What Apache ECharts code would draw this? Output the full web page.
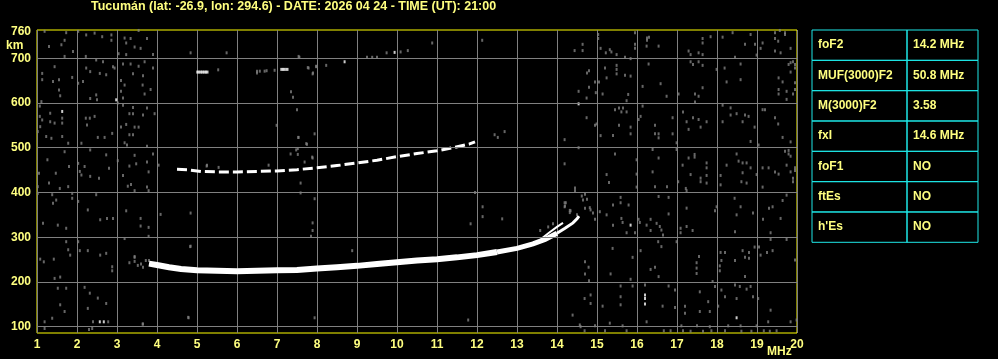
<!DOCTYPE html>
<html><head><meta charset="utf-8">
<script src="https://cdn.jsdelivr.net/npm/echarts@6/dist/echarts.min.js"></script>
<style>html,body{margin:0;padding:0;background:#000;}#c{width:998px;height:359px;}</style>
</head><body><div id="c"></div>
<script>
const chartTitle = 'Tucumán (lat: -26.9, lon: 294.6) - DATE: 2026 04 24 - TIME (UT): 21:00';
const yLabelValues = [100, 200, 300, 400, 500, 600, 700, 760];
const yGridValues = [100, 200, 300, 400, 500, 600, 700];
const tableLabels = ['foF2', 'MUF(3000)F2', 'M(3000)F2', 'fxI', 'foF1', 'ftEs', "h'Es"];
const tableValues = ['14.2 MHz', '50.8 MHz', '3.58', '14.6 MHz', 'NO', 'NO', 'NO'];

// F2 first-hop trace (MHz, km)
const traceThick = [[3.8,241],[4.0,238],[4.3,233],[4.6,229],[5.0,226],[5.5,225],[6.0,224],[6.5,225],[7.0,226],[7.5,227],[8.0,230],[8.5,233],[9.0,236],[9.5,240],[10.0,244],[10.5,248],[11.0,251],[11.5,255],[12.0,260],[12.5,267]];
const traceMid = [[12.5,267],[13.0,275],[13.4,285],[13.7,295],[14.0,309]];
const traceThin = [[14.0,309],[14.2,320],[14.4,332],[14.5,341],[14.55,347]];
const traceBranch = [[13.6,296],[13.8,310],[14.0,323],[14.15,332]];
// second hop
const hop2 = [[4.5,452],[4.75,451],[5.1,447],[5.5,446],[6.0,446],[6.5,447],[7.0,448],[7.5,451],[8.0,455],[8.5,460],[9.0,466],[9.5,472],[10.0,480],[10.5,487],[11.0,493],[11.4,500],[11.8,508],[11.95,513]];
// third hop echoes
const hop3 = [[5.02,669],[5.08,669],[5.14,669],[5.2,669],[5.25,669],[7.12,675],[7.18,675],[7.25,675]];

const noiseWhite = [[1.63,581],[2.98,607],[2.57,111],[2.67,111],[16.2,171],[16.2,163],[16.2,151],[18.49,120],[15.84,327],[14.54,598],[9.94,713],[8.69,692]];

const noiseLeft = [[1.19,760],[1.73,757],[2.03,760],[2.23,752],[2.44,756],[2.63,748],[2.86,752],[2.86,740],[1.30,726],[1.61,730],[1.69,740],[1.90,715],[1.69,704],[2.22,704],[2.48,696],[2.65,692],[2.90,681],[1.13,666],[1.44,681],[1.13,652],[1.40,648],[1.55,652],[1.88,657],[2.03,644],[2.15,648],[2.23,678],[2.33,670],[2.57,666],[2.73,663],[2.94,678],[1.55,629],[1.58,616],[1.11,603],[2.33,610],[2.48,618],[2.50,607],[1.07,593],[1.07,570],[1.13,562],[1.33,577],[1.33,558],[1.44,555],[1.63,566],[1.63,555],[1.08,547],[1.02,536],[1.23,525],[1.36,521],[1.63,525],[2.22,566],[2.32,566],[2.44,570],[2.25,551],[2.52,523],[2.69,523],[2.88,532],[1.78,510],[1.69,491],[2.11,510],[2.33,495],[2.03,465],[1.80,458],[2.07,447],[2.19,458],[2.11,439],[2.33,436],[2.55,432],[2.73,484],[2.80,454],[1.26,473],[1.30,421],[1.47,443],[1.57,409],[1.78,413],[1.05,443],[1.02,413],[1.02,398],[1.38,395],[1.40,376],[1.48,383],[1.88,398],[1.88,387],[2.03,380],[2.27,361],[2.48,395],[2.58,339],[2.75,342],[2.90,342],[1.52,327],[1.73,320],[1.15,331],[1.73,290],[2.03,290],[2.27,270],[2.07,270],[1.78,272],[1.83,260],[1.08,251],[1.17,245],[1.42,251],[2.58,260],[2.73,264],[2.88,234],[2.88,225],[1.44,208],[1.58,211],[1.73,186],[1.52,186],[2.19,188],[2.32,175],[2.52,164],[2.73,152],[1.58,149],[1.69,134],[1.38,119],[1.19,111],[2.27,141],[2.40,111],[2.78,111],[2.30,94],[2.38,96],[1.19,96],
[3.54,762],[3.19,745],[3.34,744],[3.23,734],[3.44,725],[3.59,722],[3.75,744],[3.90,708],[3.23,708],[3.04,710],[3.15,687],[3.34,687],[3.54,682],[3.69,692],[3.90,678],[3.40,665],[3.65,661],[3.10,650],[3.19,640],[3.64,640],[3.84,630],[3.69,620],[3.10,626],[3.15,611],[3.02,600],[3.15,595],[3.40,590],[3.75,589],[3.31,576],[3.40,576],[3.65,573],[3.94,576],[3.10,546],[3.23,552],[3.44,546],[3.54,546],[3.31,529],[3.40,529],[3.19,511],[3.25,506],[3.75,503],[3.44,483],[3.90,486],[3.02,471],[3.31,459],[3.48,464],[3.75,468],[3.79,446],[3.15,438],[3.27,414],[3.35,418],[3.44,404],[3.75,412],[3.79,404],[4.04,461],[3.23,359],[4.09,351],[3.59,342],[4.84,354],[3.59,325],[3.79,322],[3.79,302],[3.19,297],[4.84,280],[3.44,255],[3.65,106],[4.79,120],
[3.31,243],[3.44,246],[3.52,237],[3.60,240],[3.65,233],[3.72,248],[3.80,248],[3.44,257],[4.83,279]];

const noiseMid = [[4.84,712],[5.74,712],[7.56,702],[7.35,625],[7.40,613],[7.50,585],[6.99,550],[7.94,531],[7.54,523],[7.75,508],[7.52,498],[7.34,486],[7.52,485],[7.89,477],[7.69,468],[5.25,461],[5.54,456],[6.79,461],[7.59,421],[7.59,399],[7.94,386],[7.98,682],[7.89,665],[7.79,678],[7.89,332],[7.89,315],[7.85,302],[7.94,120],[4.78,121],[11.78,115],[3.64,106],[8.88,270],[7.53,523],[7.73,509],[7.48,495],[7.88,479],[5.24,459],[12.44,529],[12.69,536],[12.52,523],[5.53,674],[6.5,671],[6.74,672],[6.94,673],[7.54,704],[7.77,679],[7.9,667],[7.98,681],[8.23,684],[9.25,702],[9.38,702],[9.5,702],[9.74,712],[10.09,714],[10.27,717],[10.88,734],[12.13,740],[11.95,400],[12.14,368],[12.14,346],[11.84,330],[12.63,341],[13.58,315],[13.78,323],[13.9,330],[14.19,377],[14.2,370],[14.32,360],[14.32,355],[14.45,410],[14.62,392],[14.7,396],[14.82,366],[14.95,340],[14.7,245],[14.5,350],[6.5,667],[6.69,671],[6.57,671]];

const noiseRightTop = [[15.03,753],[15.03,744],[15.95,757],[16.25,745],[16.25,740],[16.30,747],[17.64,744],[17.64,734],[17.84,748],[18.14,747],[18.39,757],[18.84,753],[18.95,731],[19.45,757],[19.57,762],[19.70,757],[19.70,753],[19.53,738],[19.45,744],[14.44,717],[14.64,731],[14.64,717],[15.09,722],[15.22,712],[15.32,719],[15.36,714],[15.49,708],[15.95,731],[15.95,722],[15.70,702],[15.84,699],[16.24,727],[16.54,727],[17.29,716],[17.34,708],[17.54,712],[17.64,708],[18.70,731],[18.99,707],[19.14,734],[19.09,722],[19.45,716],[19.59,712],[19.84,722],[18.45,702],
[15.20,678],[15.49,684],[15.49,675],[15.49,665],[14.80,672],[14.75,667],[15.70,662],[15.84,660],[14.95,647],[15.05,647],[14.80,635],[15.24,656],[15.14,620],[14.97,623],[14.54,626],[14.74,611],[15.78,619],[15.74,605],[16.14,637],[16.29,687],[16.59,643],[16.74,615],[17.04,620],[17.34,692],[17.40,686],[17.54,692],[17.64,684],[17.64,634],[17.45,620],[17.54,615],[17.45,602],[17.99,675],[18.19,678],[18.24,647],[18.59,687],[18.59,652],[19.54,656],[19.64,647],[19.79,686],[19.84,690],[19.90,692],[19.95,686],[19.95,678],[19.84,669],[19.95,645],[19.95,630],[19.54,630],[19.54,620],[19.74,626],[19.74,608],[19.90,620],
[14.74,567],[14.95,550],[14.99,553],[15.45,585],[15.55,589],[15.65,589],[15.61,580],[15.74,580],[15.55,550],[15.84,546],[15.84,531],[15.09,527],[15.40,527],[14.19,518],[16.14,593],[16.09,570],[16.04,563],[16.45,550],[16.45,531],[16.54,531],[16.54,522],[16.89,567],[16.89,531],[16.99,511],[17.15,580],[17.24,558],[17.29,541],[17.40,567],[17.54,563],[17.59,546],[17.74,558],[18.14,595],[18.34,589],[18.34,573],[18.49,576],[18.70,573],[18.79,570],[18.64,558],[18.14,558],[18.94,546],[18.84,514],[19.14,585],[19.20,585],[19.45,567],[19.53,553],[19.64,523],[19.84,513],
[14.54,500],[14.19,464],[15.24,440],[15.45,486],[15.99,473],[15.99,441],[16.39,496],[16.54,477],[16.39,446],[16.99,496],[17.14,461],[17.29,477],[17.44,485],[17.44,479],[17.74,466],[17.74,455],[17.74,438],[17.59,432],[17.34,440],[18.09,438],[18.24,461],[18.49,486],[18.54,470],[18.64,466],[18.74,466],[18.64,444],[18.84,455],[18.99,440],[19.04,506],[19.14,455],[19.29,455],[19.45,446],[19.54,441],[19.70,492],[19.79,486],[19.79,494],[19.84,481],[19.74,461],[19.84,446],[19.95,455],[19.95,449],[19.90,432]];

const noiseRightBottom = [[14.45,404],[15.30,422],[15.99,412],[16.45,413],[16.75,413],[16.79,389],[17.03,424],[17.22,409],[17.24,404],[17.59,424],[17.74,421],[18.09,417],[18.61,424],[18.74,421],[19.14,412],[19.90,424],[14.22,377],[14.19,368],[14.34,359],[14.65,383],[14.75,385],[14.70,365],[14.84,361],[14.90,354],[15.07,357],[15.24,350],[15.40,372],[15.59,389],[15.59,377],[15.79,372],[15.61,342],[15.64,333],[15.40,327],[15.74,310],[15.95,310],[16.04,340],[16.07,333],[16.24,327],[16.34,340],[16.34,315],[16.49,331],[16.57,324],[16.61,316],[16.65,305],[16.53,290],[16.61,279],[16.99,290],[16.79,352],[16.54,391],[17.09,320],[17.09,310],[17.24,324],[17.39,315],[17.24,365],[17.99,368],[17.95,359],[18.49,350],[18.45,312],[18.59,368],[18.44,387],[18.90,354],[19.15,340],[19.30,365],[19.39,368],[19.59,342],[19.34,310],[19.64,382],[19.74,394],[19.74,295],[19.34,295],
[15.39,275],[15.89,255],[16.09,270],[16.34,228],[16.45,233],[16.54,212],[15.84,206],[14.79,233],[14.70,218],[15.34,218],[14.80,203],[17.49,243],[17.49,231],[17.49,219],[17.55,257],[18.09,266],[18.20,266],[18.11,248],[18.45,248],[18.64,270],[18.70,255],[18.80,266],[18.80,253],[18.94,278],[19.05,278],[19.09,260],[19.25,266],[19.39,270],[18.70,212],[18.07,236],[18.07,225],[17.89,201],[17.95,190],[18.11,182],[18.20,167],[18.45,193],[18.57,190],[18.74,184],[18.84,190],[18.90,167],[19.03,163],[18.49,163],[15.59,191],[15.89,191],[16.20,193],[16.79,191],[16.95,182],[14.69,163],[14.84,171],[14.84,152],[15.14,146],[15.59,167],[15.59,149],[16.64,146],[16.95,143],[17.20,146],[17.20,130],[17.57,178],[17.57,134],[17.82,134],[17.78,156],[18.03,146],[19.34,137],[19.28,111],[14.39,126],[14.57,104],[14.59,100],[14.95,102],[15.32,108],[15.64,102],[16.24,111],[17.11,102],[17.50,102],[17.82,100],[18.28,102],[18.59,102],[18.99,102],[19.84,111],[19.99,115],[19.95,249],
[14.69,91],[15.20,91],[15.74,91],[16.67,91],[16.84,91],[17.15,91],[17.34,90],[17.65,90],[17.86,91],[18.20,91],[18.61,90],[18.86,90],[19.17,91],[19.32,90],[19.49,91]];

const TXT = '#ffff80';
const FONT = 'Liberation Sans';
const chart = echarts.init(document.getElementById('c'));

const rowTop = 30, rowH = 30.33, tX = 812, tMid = 907, tR = 978;
const tableGraphics = [];
tableLabels.forEach((lab, i) => {
  const y = rowTop + i * rowH;
  tableGraphics.push({type:'rect', shape:{x:tX, y:y, width:tMid - tX, height:rowH}, style:{fill:'none', stroke:'#1ee8e8', lineWidth:1}});
  tableGraphics.push({type:'rect', shape:{x:tMid, y:y, width:tR - tMid, height:rowH}, style:{fill:'none', stroke:'#1ee8e8', lineWidth:1}});
  tableGraphics.push({type:'text', x:818, y:y + rowH/2, style:{text:lab, fill:TXT, font:'bold 12px ' + FONT, textVerticalAlign:'middle', verticalAlign:'middle'}});
  tableGraphics.push({type:'text', x:913, y:y + rowH/2, style:{text:tableValues[i], fill:TXT, font:'bold 12px ' + FONT, textVerticalAlign:'middle', verticalAlign:'middle'}});
});

const noiseStyle = {type:'scatter', symbol:'rect', symbolSize:[2,3], itemStyle:{color:'#808080'}, silent:true, z:2};
function lineSeries(data, w, dash) {
  return {type:'line', data:data, showSymbol:false, symbol:'none', silent:true, z:4,
    lineStyle:{color:'#ffffff', width:w, cap:'butt', join:'miter', type: dash || 'solid'}};
}

chart.setOption({
  backgroundColor:'#000',
  animation:false,
  grid:{left:37, top:30, width:760, height:303, show:true, borderColor:'#ffff00', borderWidth:1, backgroundColor:'#000'},
  xAxis:{type:'value', min:1, max:20, interval:1,
    axisLine:{show:false}, axisTick:{show:false},
    splitLine:{show:true, lineStyle:{color:'#808080', width:1}},
    axisLabel:{color:TXT, fontWeight:'bold', fontSize:12, fontFamily:FONT, margin:6, showMinLabel:true, showMaxLabel:true}},
  yAxis:{type:'value', min:86, max:763,
    axisLine:{show:false}, axisTick:{show:false}, splitLine:{show:false},
    axisLabel:{customValues:yLabelValues, color:TXT, fontWeight:'bold', fontSize:12, fontFamily:FONT, margin:6}},
  graphic:[
    {type:'text', x:91, y:7, style:{text:chartTitle, fill:TXT, font:'bold 12.5px ' + FONT, textVerticalAlign:'middle', verticalAlign:'middle'}},
    {type:'text', x:6, y:46, style:{text:'km', fill:TXT, font:'bold 12px ' + FONT, textVerticalAlign:'middle', verticalAlign:'middle'}},
    {type:'text', x:767, y:352, style:{text:'MHz', fill:TXT, font:'bold 12px ' + FONT, textVerticalAlign:'middle', verticalAlign:'middle'}},
    ...tableGraphics
  ],
  series:[
    Object.assign({}, noiseStyle, {data:noiseLeft,
      markLine:{silent:true, symbol:'none', label:{show:false}, animation:false,
        lineStyle:{color:'#808080', type:'solid', width:1},
        data:yGridValues.map(v => ({yAxis:v}))}}),
    Object.assign({}, noiseStyle, {data:noiseMid}),
    Object.assign({}, noiseStyle, {data:noiseRightTop}),
    Object.assign({}, noiseStyle, {data:noiseRightBottom}),
    Object.assign({}, noiseStyle, {data:noiseWhite, itemStyle:{color:'#ffffff'}}),
    lineSeries(traceThick, 6),
    lineSeries(traceMid, 5),
    lineSeries(traceThin, 3),
    lineSeries(traceBranch, 2),
    lineSeries(hop2, 3, [10,4]),
    {type:'scatter', data:hop3, symbol:'rect', symbolSize:[3,3], itemStyle:{color:'#ffffff'}, silent:true, z:4}
  ]
});
</script>
</body></html>
